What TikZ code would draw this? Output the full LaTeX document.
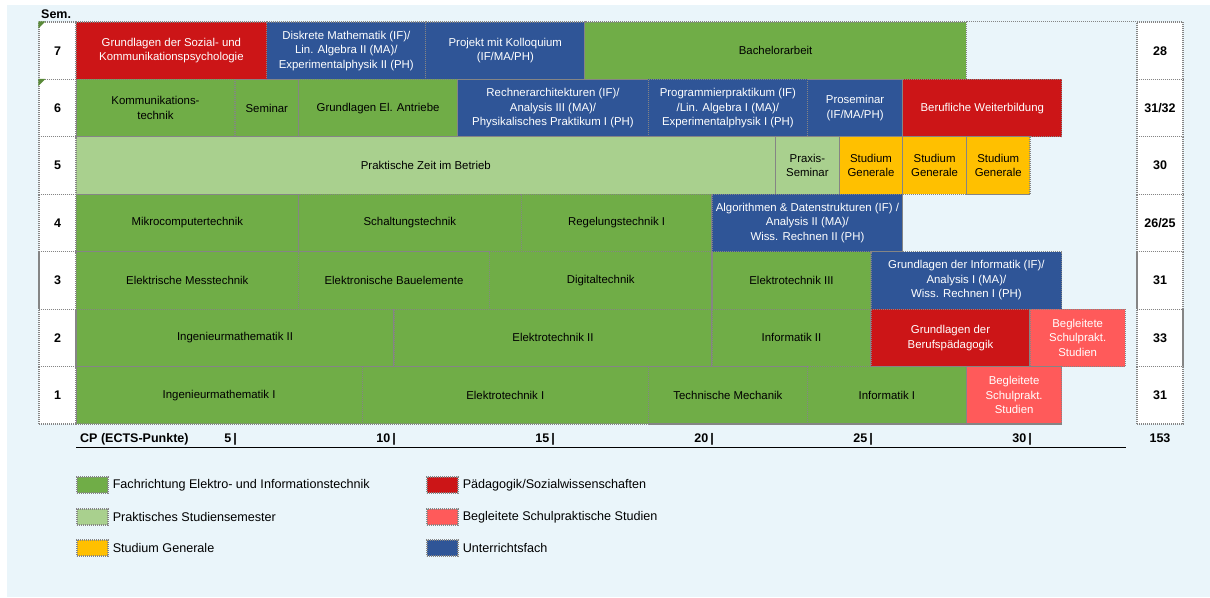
\documentclass[tikz,border=0pt]{standalone}
\usepackage{fontspec}
\setmainfont{Liberation Sans}
\usetikzlibrary{positioning}

\definecolor{gruen}{HTML}{70AD47}
\definecolor{hellgruen}{HTML}{A9D08E}
\definecolor{sgorange}{HTML}{FFC000}
\definecolor{rot}{HTML}{CC1517}
\definecolor{lachs}{HTML}{FF5A5A}
\definecolor{blau}{HTML}{2F5597}
\definecolor{hinter}{HTML}{EAF5FA}
\definecolor{rahmen}{HTML}{858585}

\tikzset{
  cell/.style={draw=rahmen, line width=1.1pt, dash pattern=on 1.2pt off 0.8pt,
    minimum height=57.4pt, inner sep=1pt, align=center,
    font=\fontsize{11.4}{14.5}\selectfont},
  fe/.style={cell, fill=gruen, text=black},
  prx/.style={cell, fill=hellgruen, text=black},
  sg/.style={cell, fill=sgorange, text=black},
  paed/.style={cell, fill=rot, text=white},
  bsp/.style={cell, fill=lachs, text=white},
  uf/.style={cell, fill=blau, text=white},
  semcell/.style={cell, fill=white, minimum width=37pt,
    font=\fontsize{12.5}{14}\selectfont\bfseries},
  cpcell/.style={cell, fill=white, minimum width=46pt,
    font=\fontsize{12.5}{14}\selectfont\bfseries},
  fett/.style={font=\fontsize{12.5}{14}\selectfont\bfseries, inner sep=0pt},
  swatch/.style={draw=rahmen, line width=1.1pt, dash pattern=on 1.2pt off 0.8pt,
    minimum width=31pt, minimum height=16pt, inner sep=0pt},
  legtext/.style={font=\fontsize{12.6}{15}\selectfont, inner sep=0pt},
}

\begin{document}
\begin{tikzpicture}[x=1pt, y=-1pt]
  \useasboundingbox (0,0) rectangle (1210,597);
  \fill[white] (0,0) rectangle (1210,597);
  \fill[hinter] (7,5) rectangle (1210,597);

  \node[fett, anchor=base west] (semlabel) at (41,18) {Sem.};

  % Semester 7
  \node[paed, minimum width=190.8pt] (gsk) at (171.4,50.7) {Grundlagen der Sozial- und\\Kommunikationspsychologie};
  \node[uf, minimum width=159pt] (dm) at (346.3,50.7) {Diskrete Mathematik (IF)/\\Lin. Algebra II (MA)/\\Experimentalphysik II (PH)};
  \node[uf, minimum width=159pt] (pk) at (505.3,50.7) {Projekt mit Kolloquium\\(IF/MA/PH)};
  \node[fe, minimum width=381.6pt] (ba) at (775.6,50.7) {Bachelorarbeit};

  % Semester 6
  \node[fe, minimum width=159pt] (kt) at (155.5,108.1) {Kommunikations-\\technik};
  \node[fe, minimum width=63.6pt] (sem) at (266.8,108.1) {Seminar};
  \node[fe, minimum width=159pt] (gea) at (378.1,108.1) {Grundlagen El. Antriebe};
  \node[uf, minimum width=190.8pt] (ra) at (553,108.1) {Rechnerarchitekturen (IF)/\\Analysis III (MA)/\\Physikalisches Praktikum I (PH)};
  \node[uf, minimum width=159pt] (pp) at (727.9,108.1) {Programmierpraktikum (IF)\\/Lin. Algebra I (MA)/\\Experimentalphysik I (PH)};
  \node[uf, minimum width=95.4pt] (ps) at (855.1,108.1) {Proseminar\\(IF/MA/PH)};
  \node[paed, minimum width=159pt] (bw) at (982.3,108.1) {Berufliche Weiterbildung};

  % Semester 5
  \node[prx, minimum width=699.6pt] (pzb) at (425.8,165.6) {Praktische Zeit im Betrieb};
  \node[prx, minimum width=63.6pt] (prs) at (807.4,165.6) {Praxis-\\Seminar};
  \node[sg, minimum width=63.6pt] (sga) at (871,165.6) {Studium\\Generale};
  \node[sg, minimum width=63.6pt] (sgb) at (934.6,165.6) {Studium\\Generale};
  \node[sg, minimum width=63.6pt] (sgc) at (998.2,165.6) {Studium\\Generale};

  % Semester 4
  \node[fe, minimum width=222.6pt] (mct) at (187.3,223) {Mikrocomputertechnik};
  \node[fe, minimum width=222.6pt] (st) at (409.9,223) {Schaltungstechnik};
  \node[fe, minimum width=190.8pt] (rt) at (616.6,223) {Regelungstechnik I};
  \node[uf, minimum width=190.8pt] (ad) at (807.4,223) {Algorithmen \& Datenstrukturen (IF) /\\Analysis II (MA)/\\Wiss. Rechnen II (PH)};

  % Semester 3
  \node[fe, minimum width=222.6pt] (emt) at (187.3,280.4) {Elektrische Messtechnik};
  \node[fe, minimum width=190.8pt] (eb) at (394,280.4) {Elektronische Bauelemente};
  \node[fe, minimum width=222.6pt] (dt) at (600.7,280.4) {Digitaltechnik};
  \node[fe, minimum width=159pt] (etc) at (791.5,280.4) {Elektrotechnik III};
  \node[uf, minimum width=190.8pt] (gi) at (966.4,280.4) {Grundlagen der Informatik (IF)/\\Analysis I (MA)/\\Wiss. Rechnen I (PH)};

  % Semester 2
  \node[fe, minimum width=318pt] (imb) at (235,337.9) {Ingenieurmathematik II};
  \node[fe, minimum width=318pt] (etb) at (553,337.9) {Elektrotechnik II};
  \node[fe, minimum width=159pt] (infb) at (791.5,337.9) {Informatik II};
  \node[paed, minimum width=159pt] (gbp) at (950.5,337.9) {Grundlagen der\\Berufspädagogik};
  \node[bsp, minimum width=95.4pt] (bspb) at (1077.7,337.9) {Begleitete\\Schulprakt.\\Studien};

  % Semester 1
  \node[fe, minimum width=286.2pt] (ima) at (219.1,395.3) {Ingenieurmathematik I};
  \node[fe, minimum width=286.2pt] (eta) at (505.3,395.3) {Elektrotechnik I};
  \node[fe, minimum width=159pt] (tm) at (727.9,395.3) {Technische Mechanik};
  \node[fe, minimum width=159pt] (infa) at (886.9,395.3) {Informatik I};
  \node[bsp, minimum width=95.4pt] (bspa) at (1014.1,395.3) {Begleitete\\Schulprakt.\\Studien};

  % Semester und Punkte
  \node[semcell] (s7) at (57.5,50.7) {7};
  \node[semcell] (s6) at (57.5,108.1) {6};
  \node[semcell] (s5) at (57.5,165.6) {5};
  \node[semcell] (s4) at (57.5,223) {4};
  \node[semcell] (s3) at (57.5,280.4) {3};
  \node[semcell] (s2) at (57.5,337.9) {2};
  \node[semcell] (s1) at (57.5,395.3) {1};
  \node[cpcell] (p7) at (1160,50.7) {28};
  \node[cpcell] (p6) at (1160,108.1) {31/32};
  \node[cpcell] (p5) at (1160,165.6) {30};
  \node[cpcell] (p4) at (1160,223) {26/25};
  \node[cpcell] (p3) at (1160,280.4) {31};
  \node[cpcell] (p2) at (1160,337.9) {33};
  \node[cpcell] (p1) at (1160,395.3) {31};
  \draw[rahmen, line width=1.1pt, dash pattern=on 1.2pt off 0.8pt] (ba.north east) -- (p7.north west);
  \fill[gruen!80!black] (s7.north west) -- ++(7,0) -- ++(-7,7) -- cycle;
  \fill[gruen!80!black] (s6.north west) -- ++(7,0) -- ++(-7,7) -- cycle;

  % Achse
  \node[fett, anchor=base west] (cp) at (80,442) {CP (ECTS-Punkte)};
  \foreach \k in {5,10,...,30}
    \node[fett, anchor=base east] (t\k) at ({78+\k*31.8},442) {\k\,|};
  \node[fett, anchor=base] (summe) at (1160,442) {153};
  \coordinate (achsel) at (76,447.5);
  \coordinate (achser) at (1126,447.5);
  \draw[line width=1.3pt] (achsel) -- (achser);

  % Legende
  \node[swatch, fill=gruen] (lga) at (92.5,485) {};
  \node[legtext, right=4pt of lga] {Fachrichtung Elektro- und Informationstechnik};
  \node[swatch, fill=hellgruen] (lgb) at (92.5,517) {};
  \node[legtext, right=4pt of lgb] {Praktisches Studiensemester};
  \node[swatch, fill=sgorange] (lgc) at (92.5,548) {};
  \node[legtext, right=4pt of lgc] {Studium Generale};
  \node[swatch, fill=rot] (lgd) at (442.5,485) {};
  \node[legtext, right=4pt of lgd] {Pädagogik/Sozialwissenschaften};
  \node[swatch, fill=lachs] (lge) at (442.5,517) {};
  \node[legtext, right=4pt of lge] {Begleitete Schulpraktische Studien};
  \node[swatch, fill=blau] (lgf) at (442.5,548) {};
  \node[legtext, right=4pt of lgf] {Unterrichtsfach};
\end{tikzpicture}
\end{document}
